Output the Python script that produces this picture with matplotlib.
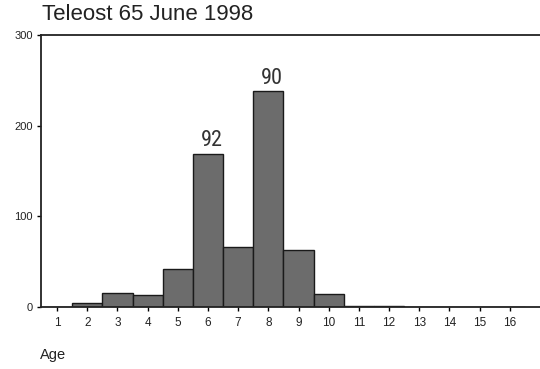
import matplotlib
matplotlib.use("Agg")
import matplotlib.pyplot as plt
from matplotlib import font_manager

ages = list(range(1, 17))
counts = [0, 4, 15, 13, 42, 169, 66, 238, 63, 14, 1.5, 1.5, 0, 0, 0, 0]
annot_ages = [6, 8]
annot_text = ["92", "90"]
y_ticks = [0, 100, 200, 300]
title = "Teleost 65 June 1998"
xlabel = "Age"

names = {f.name for f in font_manager.fontManager.ttflist}
narrow = None
for cand in ["Liberation Sans Narrow", "DejaVu Sans Condensed", "Roboto Condensed",
             "Open Sans Condensed"]:
    if cand in names:
        narrow = cand
        break

reg = font_manager.FontProperties(family="Liberation Sans", stretch="normal", weight="normal")

fig = plt.figure(figsize=(5.4, 3.69), dpi=100)
ax = fig.add_axes([0.076, 0.168, 0.924, 0.737])

ax.bar(ages, counts, width=1.0, color="#6c6c6c", edgecolor="#1a1a1a", linewidth=1.0)

for a, t in zip(annot_ages, annot_text):
    h = counts[ages.index(a)]
    if narrow:
        ax.text(a + 0.12, h + 3, t, ha="center", va="bottom", fontsize=16,
                family=narrow, color="#333333")
    else:
        ax.text(a + 0.12, h + 3, t, ha="center", va="bottom", fontsize=15,
                family="DejaVu Sans", stretch="condensed", color="#333333")

ax.set_xlim(0.47, 17.0)
ax.set_ylim(0, 300)
ax.set_xticks(ages)
ax.set_xticklabels([str(a) for a in ages], fontproperties=reg, fontsize=8.5, color="#222222")
ax.set_yticks(y_ticks)
ax.set_yticklabels([str(v) for v in y_ticks], fontproperties=reg, fontsize=8, color="#222222")
ax.tick_params(axis="x", length=3, width=1, direction="out", pad=4)
ax.tick_params(axis="y", length=3, width=1, direction="out", pad=3)

for s in ["left", "top", "bottom"]:
    ax.spines[s].set_linewidth(1.3)
    ax.spines[s].set_color("#222222")
ax.spines["right"].set_visible(False)

fig.text(0.078, 0.96, title, fontproperties=reg, fontsize=16, color="#222222",
         ha="left", va="center")
fig.text(0.074, 0.038, xlabel, fontproperties=reg, fontsize=10.5, color="#222222",
         ha="left", va="center")

fig.savefig("out.png", dpi=100)
